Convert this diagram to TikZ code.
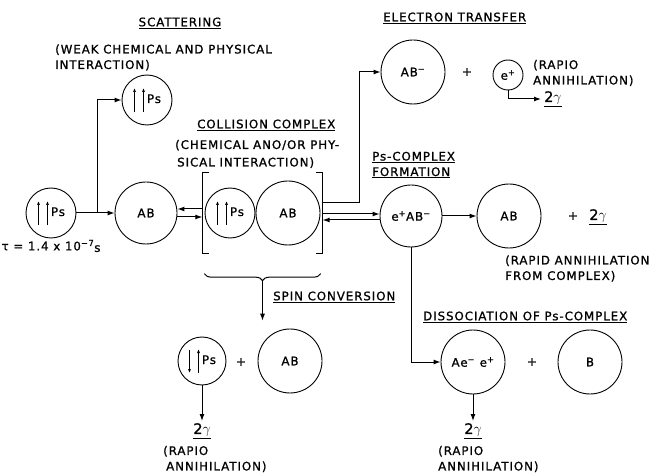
\documentclass[tikz,border=0pt]{standalone}
\usepackage{fontspec}
\setmainfont{DejaVu Sans}[LetterSpace=8,FakeBold=1]
\usetikzlibrary{arrows.meta,positioning,fit,calc,decorations.pathreplacing}

% little spin arrows inside the Ps circles
\newcommand{\spinup}{\tikz[baseline=-3pt]\draw[line width=0.7pt,-{Latex[length=4pt,width=3pt]}] (0pt,-12pt) -- (0pt,12pt);}
\newcommand{\spindn}{\tikz[baseline=-3pt]\draw[line width=0.7pt,-{Latex[length=4pt,width=3pt]}] (0pt,11pt) -- (0pt,-12pt);}
\newcommand{\twogam}{{\fontsize{14.5}{16}\selectfont\underline{2$\gamma$}}}

\begin{document}
\begin{tikzpicture}[x=1pt,y=-1pt,
    font=\fontsize{11.8}{15.5}\selectfont,
    mol/.style={circle,draw,line width=0.9pt,inner sep=0pt,minimum size=64pt},
    psat/.style={circle,draw,line width=0.9pt,inner sep=0pt,minimum size=50pt},
    conn/.style={line width=1pt,-{Latex[length=7pt,width=5pt]}},
    lbl/.style={anchor=west,align=left,inner sep=0pt},
    ttl/.style={anchor=west,inner sep=0pt}]
  \useasboundingbox (0,0) rectangle (651,473);

  % positronium and scattering
  \node[psat] (ps0) at (51,213) {\spinup\hspace{6pt}\spinup\hspace{2pt}Ps};
  \node[inner sep=0pt] (tau) at (51,246) {τ = 1.4 x 10\textsuperscript{−7}\raisebox{-1.5pt}{s}};
  \node[mol,minimum size=62pt] (ab0) at (146,213) {AB};
  \node[psat] (ps1) at (147,100) {\spinup\hspace{6pt}\spinup\hspace{2pt}Ps};
  \node[inner sep=0pt] (scatT) at (180,23) {\underline{SCATTERING}};
  \node[lbl] (scatS) at (55,57.5) {(WEAK CHEMICAL AND PHYSICAL\\INTERACTION)};
  \draw[conn] (ps0) -- (ab0);
  \coordinate (split) at ($(ps0.east)!0.55!(ab0.west)$);
  \draw[conn] (split) |- (ps1);

  % collision complex
  \node[psat] (psC) at (230,213) {\spinup\hspace{6pt}\spinup\hspace{2pt}Ps};
  \node[mol] (abC) at (288,213) {AB};
  \node[fit=(psC)(abC),inner xsep=2pt,inner ysep=8pt] (cplx) {};
  \draw[line width=1pt] ([xshift=7pt]cplx.north west) -- (cplx.north west)
    -- (cplx.south west) -- ([xshift=7pt]cplx.south west);
  \draw[line width=1pt] ([xshift=-7pt]cplx.north east) -- (cplx.north east)
    -- (cplx.south east) -- ([xshift=-7pt]cplx.south east);
  \node[ttl] (colT) at (197,125) {\underline{COLLISION COMPLEX}};
  \node[lbl] (colS) at (175,154) {(CHEMICAL ANO/OR PHY-\\[2pt]\hspace{2pt}SICAL INTERACTION)};
  \draw[conn] ([yshift=4pt]cplx.west) -- ([yshift=4pt]ab0.east);
  \draw[conn] ([yshift=-4pt]ab0.east) -- ([yshift=-4pt]cplx.west);

  % electron transfer
  \node[ttl] (etT) at (383,18) {\underline{ELECTRON TRANSFER}};
  \node[mol] (abm) at (413,72) {AB\textsuperscript{−}};
  \draw[conn] ([yshift=10pt]cplx.east) -- ++(37,0) |- (abm);
  \node (pl1) at (467,72) {+};
  \node[circle,draw,line width=0.9pt,inner sep=0pt,minimum size=30pt] (ep) at (508,75) {e\textsuperscript{+}};
  \node[lbl] (rap1) at (533,73) {(RAPIO\\ANNIHILATION)};
  \node[anchor=west,inner sep=3pt] (g1) at (541,99) {\twogam};
  \draw[conn] (ep) |- (g1);

  % Ps-complex formation
  \node[mol,minimum size=62pt] (eab) at (411,216) {e\textsuperscript{+}AB\textsuperscript{−}};
  \node[lbl] (pscT) at (372,165) {\underline{Ps-COMPLEX}\\\underline{FORMATION}};
  \draw[conn] ([yshift=-1pt]cplx.east) -- ([yshift=2pt]eab.west);
  \draw[conn] ([yshift=-4pt]eab.west) -- ([yshift=-7pt]cplx.east);
  \node[mol] (abF) at (509,216) {AB};
  \draw[conn] (eab) -- (abF);
  \node (pl2) at (573,216) {+};
  \node (g4) at (598,217) {\twogam};
  \node[lbl] (rapF) at (505,268.5) {(RAPID ANNIHILATION\\FROM COMPLEX)};

  % dissociation
  \node[ttl] (disT) at (423,317) {\underline{DISSOCIATION OF Ps-COMPLEX}};
  \node[mol] (ae) at (473,362) {Ae\textsuperscript{−} e\textsuperscript{+}};
  \draw[conn] (eab) |- (ae);
  \node (pl3) at (532,362) {+};
  \node[mol] (bB) at (590,362) {B};
  \node[inner sep=2pt] (g3) at (473,431) {\twogam};
  \draw[conn] (ae) -- (g3);
  \node[lbl] (rap3) at (438,459) {(RAPIO\\ANNIHILATION)};

  % spin conversion
  \draw[line width=1pt,decorate,decoration={brace,mirror,amplitude=7pt}]
    ([xshift=2pt,yshift=-20pt]cplx.south west) -- ([xshift=-2pt,yshift=-20pt]cplx.south east);
  \coordinate (brtip) at ($(cplx.south)+(0,27)$);
  \coordinate (spinend) at ($(cplx.south)+(0,67)$);
  \draw[conn] (brtip) -- (spinend);
  \node[ttl] (spinT) at (273,297) {\underline{SPIN CONVERSION}};
  \node[psat,minimum size=48pt] (psS) at (202,361) {\spindn\hspace{6pt}\spinup\hspace{2pt}Ps};
  \node (pl4) at (241,362) {+};
  \node[mol] (abS) at (290,361) {AB};
  \node[inner sep=2pt] (g2) at (202,431) {\twogam};
  \draw[conn] (psS) -- (g2);
  \node[lbl] (rap2) at (163,459) {(RAPIO\\\hspace{3pt}ANNIHILATION)};
\end{tikzpicture}
\end{document}
